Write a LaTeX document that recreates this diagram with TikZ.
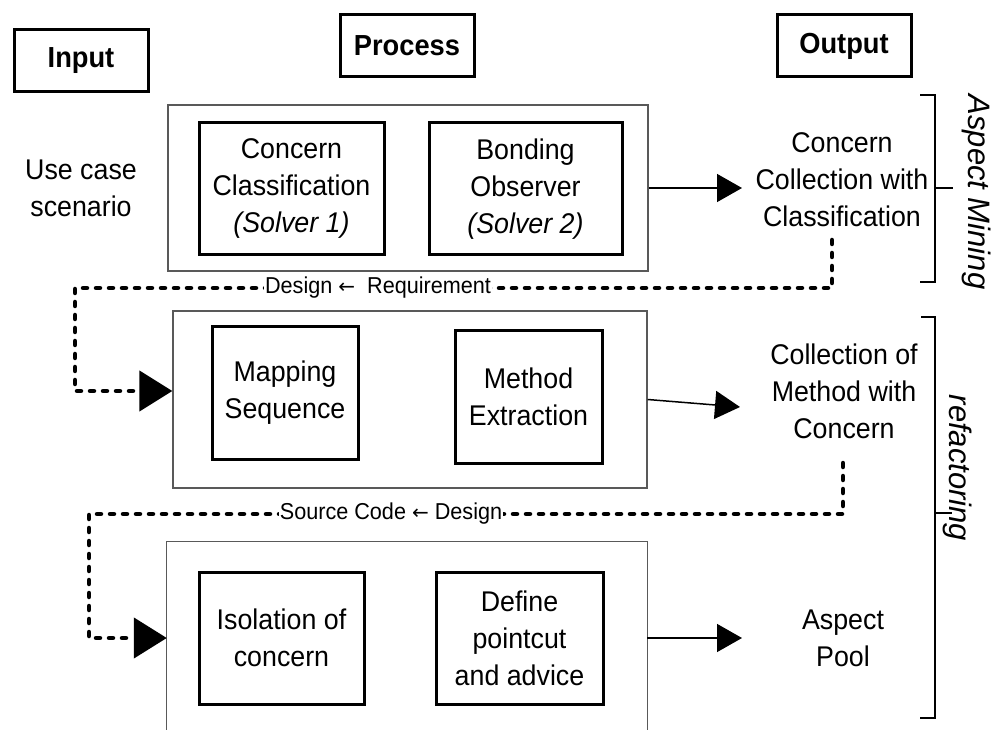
\documentclass[tikz,border=0pt]{standalone}
\usepackage{fontspec}
\setmainfont[FakeStretch=0.94]{Liberation Sans}
\newfontfamily\rotfont{Liberation Sans}
\newfontfamily\arrfont{DejaVu Sans}
\usetikzlibrary{arrows.meta}
\begin{document}
\begin{tikzpicture}[x=1pt,y=-1pt,
  hdr/.style={draw, line width=3pt, minimum width=134pt, minimum height=62pt, inner sep=0pt, font=\bfseries\fontsize{29}{34}\selectfont},
  panel/.style={inner sep=0pt},
  panelline/.style={draw=black!65, line width=1.3pt},
  inbox/.style={draw, line width=3pt, inner sep=0pt, align=center, font=\fontsize{28.5}{37}\selectfont},
  outtxt/.style={align=center, inner sep=0pt, font=\fontsize{28.5}{37}\selectfont},
  lbl/.style={fill=white, inner sep=1pt, font=\fontsize{23}{27}\selectfont},
  side/.style={rotate=-90, inner sep=0pt, font=\rotfont\itshape\fontsize{31}{36}\selectfont},
  arr/.style={line width=1.5pt, -{Triangle[length=25pt,width=28pt]}},
  darr/.style={line width=4.5pt, line cap=round, dash pattern=on 4pt off 9pt, -{Triangle[length=33pt,width=40pt]}},
  brk/.style={line width=2.5pt}
]
\useasboundingbox (0,0) rectangle (994,730);

% headers
\node[hdr] (hin) at (81,61) {Input};
\node[hdr] (hpr) at (407,46) {Process};
\node[hdr] (hout) at (844,46) {Output};

% input text
\node[outtxt] (uc) at (81,188) {Use case\\scenario};

% panels
\node[panel, draw=black!65, line width=1.3pt, minimum width=480pt, minimum height=166pt] (p1) at (408,188) {};
\node[panel, draw=black!65, line width=1.3pt, minimum width=474pt, minimum height=177pt] (p2) at (410,399.5) {};
\node[panel, minimum width=480pt, minimum height=188pt] (p3) at (407,636) {};
\draw[panelline] (p3.south west) -- (p3.north west) -- (p3.north east) -- (p3.south east);

% inner boxes
\node[inbox, minimum width=185pt, minimum height=132pt] (cc) at (291.5,189) {Concern\\Classification\\\textit{(Solver 1)}};
\node[inbox, minimum width=193pt, minimum height=132pt] (bo) at (525.5,189) {Bonding\\Observer\\\textit{(Solver 2)}};
\node[inbox, minimum width=146pt, minimum height=133pt] (ms) at (285,392.5) {Mapping\\Sequence};
\node[inbox, minimum width=147pt, minimum height=133pt] (me) at (528.5,396.5) {Method\\Extraction};
\node[inbox, minimum width=165pt, minimum height=132pt] (iso) at (281.5,638) {Isolation of\\concern};
\node[inbox, minimum width=167pt, minimum height=132pt] (dp) at (519.5,638) {Define\\pointcut\\and advice};

% outputs
\node[outtxt] (out1) at (842,180) {Concern\\Collection with\\Classification};
\node[outtxt] (out2) at (844,391) {Collection of\\Method with\\Concern};
\node[outtxt] (out3) at (843,638) {Aspect\\Pool};

% arrow ends
\coordinate (t1) at (742,188);
\coordinate (t2) at (740,407);
\coordinate (t3) at (742,638);
\draw[arr] (p1.east) -- (t1);
\draw[arr] (p2.east) -- (t2);
\draw[arr] (p3.east |- t3) -- (t3);

% dashed feedback connectors
\coordinate (s1) at (832,240);
\coordinate (c1a) at (832,288);
\coordinate (c1b) at (75,288);
\coordinate (c1c) at (75,391);
\draw[darr] (s1) -- (c1a) -- (c1b) -- (c1c) -- (c1c -| p2.west);
\node[lbl] (l1) at (378,288) {Design {\arrfont\fontsize{20}{24}\selectfont ←} \ Requirement};

\coordinate (s2) at (843,463);
\coordinate (c2a) at (843,514);
\coordinate (c2b) at (89,514);
\coordinate (c2c) at (89,638);
\draw[darr] (s2) -- (c2a) -- (c2b) -- (c2c) -- (c2c -| p3.west);
\node[lbl] (l2) at (391,514) {Source Code {\arrfont\fontsize{20}{24}\selectfont ←} Design};

% brackets
\draw[brk] (920,95) -- (935,95) -- (935,282) -- (920,282);
\draw[brk] (935,188) -- (953,188);
\draw[brk] (921,317) -- (935,317) -- (935,718) -- (920,718);
\draw[brk] (935,513) -- (952,513);

% side labels
\node[side] (am) at (977,192) {Aspect Mining};
\node[side] (rf) at (958,468) {refactoring};
\end{tikzpicture}
\end{document}
